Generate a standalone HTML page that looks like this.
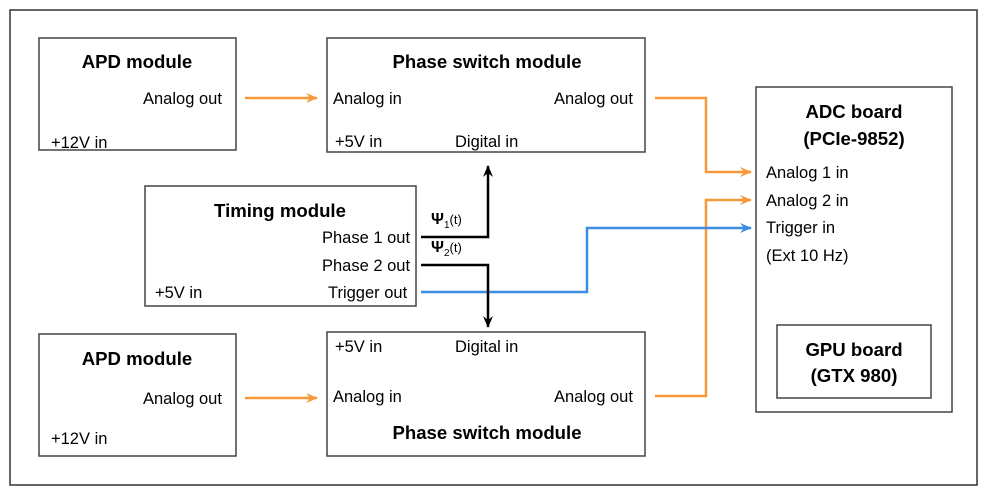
<!DOCTYPE html>
<html><head><style>
body{margin:0;background:#fff}
svg{display:block}
text{font-family:"Liberation Sans",sans-serif;font-size:16.5px;fill:#000}
.b{font-weight:bold;font-size:18.6px}
</style></head><body>
<svg width="987" height="494" viewBox="0 0 987 494">
<defs>
<marker id="ao" markerWidth="12" markerHeight="10" refX="11" refY="5" orient="auto" markerUnits="userSpaceOnUse"><path d="M0,0 L12,5 L0,10 L4,5 Z" fill="#f7993a"/></marker>
<marker id="ab" markerWidth="12" markerHeight="10" refX="11" refY="5" orient="auto" markerUnits="userSpaceOnUse"><path d="M0,0 L12,5 L0,10 L4,5 Z" fill="#3d8de0"/></marker>
<marker id="ak" markerWidth="12" markerHeight="10" refX="11" refY="5" orient="auto" markerUnits="userSpaceOnUse"><path d="M0,0 L12,5 L0,10 L4,5 Z" fill="#000"/></marker>
</defs>
<g fill="none" stroke="#444" stroke-width="1.5">
<rect x="10" y="10" width="967" height="475" stroke="#333"/>
<rect x="39" y="38" width="197" height="112"/>
<rect x="327" y="38" width="318" height="114"/>
<rect x="145" y="186" width="271" height="120"/>
<rect x="39" y="334" width="197" height="122"/>
<rect x="327" y="332" width="318" height="124"/>
<rect x="756" y="87" width="196" height="325"/>
<rect x="777" y="325" width="154" height="73"/>
</g>
<g fill="none" stroke-width="2.5">
<path d="M245,98 H317" stroke="#f7993a" marker-end="url(#ao)"/>
<path d="M245,398 H317" stroke="#f7993a" marker-end="url(#ao)"/>
<path d="M655,98 H706 V172 H751" stroke="#f7993a" marker-end="url(#ao)"/>
<path d="M655,396 H706 V200 H751" stroke="#f7993a" marker-end="url(#ao)"/>
<path d="M421,292 H587 V228 H751" stroke="#3d8de0" marker-end="url(#ab)"/>
<path d="M421,237 H488 V166" stroke="#000" marker-end="url(#ak)"/>
<path d="M421,265 H488 V327" stroke="#000" marker-end="url(#ak)"/>
</g>
<text class="b" x="137" y="68" text-anchor="middle">APD module</text>
<text x="143" y="104">Analog out</text>
<text x="51" y="148">+12V in</text>
<text class="b" x="487" y="68" text-anchor="middle">Phase switch module</text>
<text x="333" y="104">Analog in</text>
<text x="554" y="104">Analog out</text>
<text x="335" y="147">+5V in</text>
<text x="455" y="147">Digital in</text>
<text class="b" x="280" y="217" text-anchor="middle">Timing module</text>
<text x="322" y="243">Phase 1 out</text>
<text x="322" y="271">Phase 2 out</text>
<text x="328" y="298">Trigger out</text>
<text x="155" y="298">+5V in</text>
<text x="431" y="224"><tspan font-weight="bold" font-size="16">Ψ</tspan><tspan font-size="10" dy="4">1</tspan><tspan font-size="13" dy="-4">(t)</tspan></text>
<text x="431" y="252"><tspan font-weight="bold" font-size="16">Ψ</tspan><tspan font-size="10" dy="4">2</tspan><tspan font-size="13" dy="-4">(t)</tspan></text>
<text class="b" x="137" y="365" text-anchor="middle">APD module</text>
<text x="143" y="404">Analog out</text>
<text x="51" y="444">+12V in</text>
<text x="335" y="352">+5V in</text>
<text x="455" y="352">Digital in</text>
<text x="333" y="402">Analog in</text>
<text x="554" y="402">Analog out</text>
<text class="b" x="487" y="439" text-anchor="middle">Phase switch module</text>
<text class="b" x="854" y="118" text-anchor="middle">ADC board</text>
<text class="b" x="854" y="145" text-anchor="middle">(PCIe-9852)</text>
<text x="766" y="178">Analog 1 in</text>
<text x="766" y="206">Analog 2 in</text>
<text x="766" y="233">Trigger in</text>
<text x="766" y="261">(Ext 10 Hz)</text>
<text class="b" x="854" y="356" text-anchor="middle">GPU board</text>
<text class="b" x="854" y="382" text-anchor="middle">(GTX 980)</text>
</svg>
</body></html>
